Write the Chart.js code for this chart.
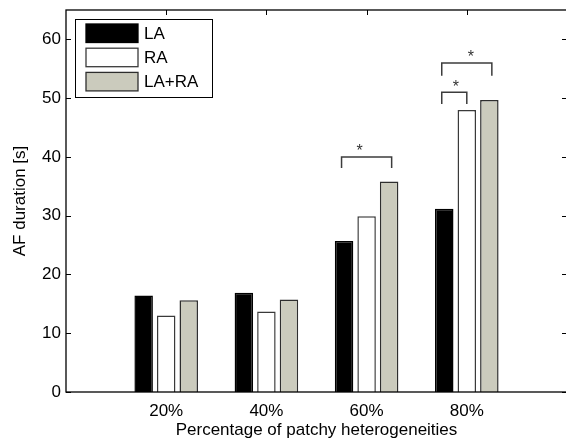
<!DOCTYPE html>
<html>
<head>
<meta charset="utf-8">
<script src="https://cdn.jsdelivr.net/npm/chart.js@4.4.1/dist/chart.umd.min.js"></script>
<style>
html, body { margin: 0; padding: 0; overflow: hidden; background: #fff; width: 566px; height: 438px; }
#wrap { position: absolute; left: 0; top: 0; width: 567px; height: 445px; }
</style>
</head>
<body>
<div id="wrap"><canvas id="c" width="567" height="445"></canvas></div>
<script>
// ---- data ----
const categories = ['20%', '40%', '60%', '80%'];
const catPositions = [1, 2, 3, 4];
const seriesNames = ['LA', 'RA', 'LA+RA'];
const laValues = [16.4, 16.9, 25.7, 31.2];
const raValues = [13.0, 13.7, 29.9, 48.0];
const laraValues = [15.6, 15.75, 35.8, 49.7];
const yTickValues = [0, 10, 20, 30, 40, 50, 60];

// significance brackets (data units)
const bracketFrom = [2.75, 3.75, 3.75];
const bracketTo = [3.25, 4.0, 4.25];
const bracketTop = [40, 51, 56];
const bracketLegEnd = [38.1, 49.0, 53.8];
const starX = [2.93, 3.89, 4.04];
const starY = [41.7, 52.6, 57.7];
const starLabels = ['*', '*', '*'];

const FONT = '"Liberation Sans", Arial, Helvetica, sans-serif';
Chart.defaults.font.family = FONT;
Chart.defaults.font.size = 17;
Chart.defaults.color = '#000';

function toXY(vals) { return vals.map((v, i) => ({ x: catPositions[i], y: v })); }

const barStyle = [
  { bg: '#000000', border: '#000000' },
  { bg: '#ffffff', border: '#3a3a3a' },
  { bg: '#cbcbbd', border: '#2e2e2e' }
];
const barSeries = [laValues, raValues, laraValues];

const datasets = barSeries.map((vals, i) => ({
  type: 'bar',
  label: seriesNames[i],
  data: toXY(vals),
  backgroundColor: barStyle[i].bg,
  borderColor: barStyle[i].border,
  borderWidth: 1.5,
  categoryPercentage: 0.675,
  barPercentage: 0.82,
  order: 2
}));

bracketFrom.forEach((x1, i) => {
  datasets.push({
    type: 'line',
    label: 'bracket' + i,
    isBracket: true,
    data: [
      { x: x1, y: bracketLegEnd[i] },
      { x: x1, y: bracketTop[i] },
      { x: bracketTo[i], y: bracketTop[i] },
      { x: bracketTo[i], y: bracketLegEnd[i] }
    ],
    borderColor: '#3c3c3c',
    borderWidth: 1.5,
    pointRadius: 0,
    fill: false,
    tension: 0,
    order: 1
  });
});

const framePlugin = {
  id: 'matlabFrame',
  beforeDatasetsDraw(chart) {
    const { ctx, chartArea: a, scales } = chart;
    ctx.save();
    ctx.strokeStyle = '#000';
    ctx.lineWidth = 1;
    const tl = 5;
    ctx.beginPath();
    yTickValues.forEach(v => {
      const y = Math.round(scales.y.getPixelForValue(v)) + 0.5;
      ctx.moveTo(a.left, y); ctx.lineTo(a.left + tl, y);
      ctx.moveTo(a.right, y); ctx.lineTo(a.right - tl, y);
    });
    catPositions.forEach(v => {
      const x = Math.round(scales.x.getPixelForValue(v)) + 0.5;
      ctx.moveTo(x, a.top); ctx.lineTo(x, a.top + tl);
      ctx.moveTo(x, a.bottom); ctx.lineTo(x, a.bottom - tl);
    });
    ctx.stroke();
    ctx.restore();
  },
  afterDatasetsDraw(chart) {
    const { ctx, chartArea: a, scales } = chart;
    ctx.save();
    // frame
    ctx.strokeStyle = '#000';
    ctx.lineWidth = 1.3;
    ctx.strokeRect(a.left, a.top, a.right - a.left, a.bottom - a.top);

    // stars
    ctx.fillStyle = '#333';
    ctx.font = '16px ' + FONT;
    ctx.textAlign = 'center';
    ctx.textBaseline = 'alphabetic';
    starLabels.forEach((s, i) => {
      const x = scales.x.getPixelForValue(starX[i]);
      const y = scales.y.getPixelForValue(starY[i]);
      ctx.fillText(s, x, y + 0.57 * 16);
    });

    // legend
    const bx = a.left + 9, by = a.top + 9, bw = 137, bh = 78;
    ctx.fillStyle = '#fff';
    ctx.fillRect(bx, by, bw, bh);
    ctx.strokeStyle = '#000';
    ctx.lineWidth = 1;
    ctx.strokeRect(Math.round(bx) + 0.5, Math.round(by) + 0.5, bw, bh);
    ctx.font = '17px ' + FONT;
    ctx.textAlign = 'left';
    ctx.textBaseline = 'middle';
    chart.data.datasets.filter(d => !d.isBracket).forEach((d, i) => {
      const sy = by + 5 + i * 24.2;
      const sx = bx + 11;
      ctx.fillStyle = d.backgroundColor;
      ctx.fillRect(sx, sy, 52, 18.5);
      ctx.strokeStyle = d.borderColor;
      ctx.lineWidth = 1.3;
      ctx.strokeRect(sx, sy, 52, 18.5);
      ctx.fillStyle = '#000';
      ctx.fillText(d.label, sx + 58, sy + 10);
    });
    ctx.restore();
  }
};

new Chart(document.getElementById('c'), {
  type: 'bar',
  data: { datasets },
  options: {
    responsive: false,
    animation: false,
    events: [],
    layout: { padding: { top: 10, right: 0, left: 0, bottom: 0 } },
    plugins: { legend: { display: false }, tooltip: { enabled: false } },
    scales: {
      x: {
        type: 'linear',
        offset: false,
        min: 0,
        max: 5,
        grid: { display: false, drawTicks: false, offset: false },
        border: { display: false },
        afterBuildTicks: s => { s.ticks = catPositions.map(v => ({ value: v })); },
        afterFit: s => { s.height = 53; s.paddingLeft = 0; s.paddingRight = 0; },
        ticks: {
          padding: 9,
          maxRotation: 0,
          autoSkip: false,
          callback: v => { const i = catPositions.indexOf(v); return i >= 0 ? categories[i] : ''; }
        },
        title: {
          display: true,
          text: 'Percentage of patchy heterogeneities',
          font: { size: 17 },
          padding: { top: 0, bottom: 4 }
        }
      },
      y: {
        min: 0,
        max: 65,
        grid: { display: false, drawTicks: false },
        border: { display: false },
        afterBuildTicks: s => { s.ticks = yTickValues.map(v => ({ value: v })); },
        afterFit: s => { s.width = 66; s.paddingTop = 0; s.paddingBottom = 0; },
        ticks: { padding: 5 },
        title: {
          display: true,
          text: 'AF duration [s]',
          font: { size: 17 },
          padding: { top: 10, bottom: 0 }
        }
      }
    }
  },
  plugins: [framePlugin]
});
</script>
</body>
</html>
